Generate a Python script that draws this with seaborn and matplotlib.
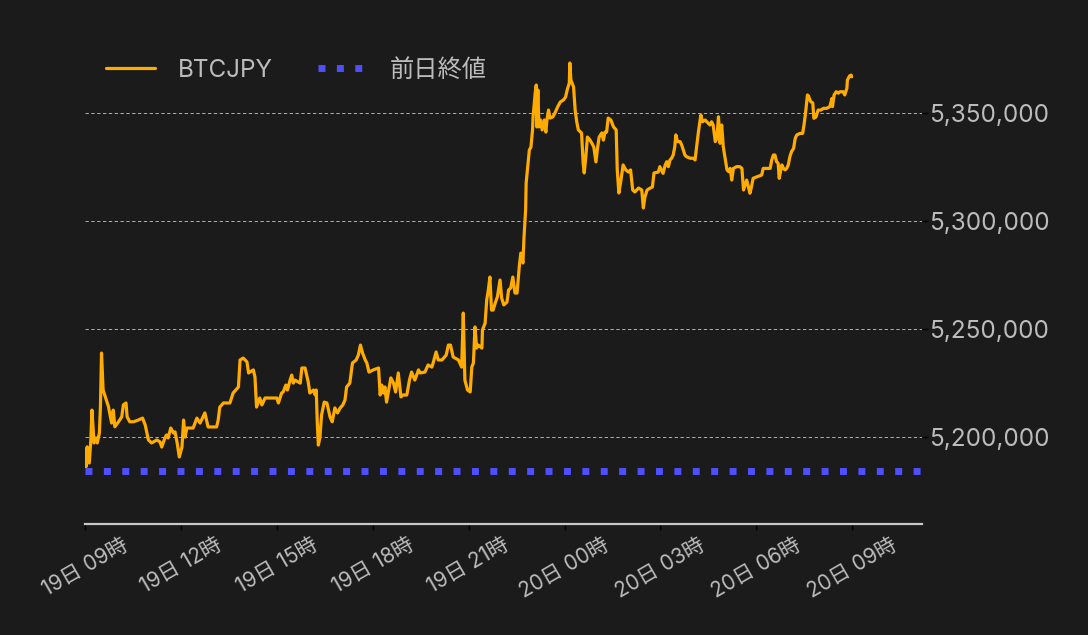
import matplotlib
matplotlib.use("Agg")
import matplotlib.pyplot as plt
import matplotlib.dates as mdates
from matplotlib.ticker import FuncFormatter
import pandas as pd
import seaborn as sns

# ---- data ----
start_time = "2021-12-19 09:00"
minutes = [0, 2, 4, 8, 11, 13, 17, 21, 23, 27, 29, 31, 34, 38, 44, 50, 53, 56, 63, 69,
           72, 77, 79, 84, 91, 100, 108, 113, 119, 125, 135, 141, 144, 150, 153, 156, 161, 166, 169, 173,
           177, 182, 185, 188, 191, 203, 210, 216, 225, 231, 247, 250, 253, 260, 272, 278, 288, 291, 297, 304,
           307, 316, 319, 322, 328, 332, 338, 360, 363, 369, 372, 377, 380, 385, 388, 391, 394, 404, 407, 413,
           419, 422, 429, 432, 434, 436, 438, 441, 444, 449, 454, 460, 464, 469, 474, 479, 484, 488, 491, 497,
           502, 509, 513, 517, 521, 526, 529, 533, 541, 551, 554, 557, 560, 563, 566, 569, 574, 579, 583, 588,
           593, 597, 604, 609, 613, 619, 626, 629, 638, 644, 651, 654, 659, 663, 670, 678, 682, 686, 691, 701,
           707, 710, 713, 718, 723, 726, 729, 732, 735, 738, 745, 746, 751, 754, 757, 760, 763, 766, 770, 774,
           779, 782, 786, 792, 795, 799, 803, 807, 811, 815, 818, 822, 824, 827, 828, 831, 834, 837, 840, 841,
           845, 847, 848, 850, 852, 855, 858, 862, 865, 867, 870, 873, 878, 882, 887, 892, 898, 902, 905, 909,
           910, 912, 917, 920, 923, 926, 932, 935, 937, 940, 943, 948, 951, 955, 959, 962, 965, 970, 973, 976,
           979, 982, 987, 992, 997, 999, 1002, 1006, 1010, 1015, 1020, 1024, 1028, 1032, 1039, 1045, 1048, 1051, 1055, 1061,
           1065, 1068, 1076, 1079, 1082, 1085, 1089, 1092, 1095, 1098, 1101, 1104, 1107, 1109, 1112, 1117, 1120, 1123, 1126, 1129,
           1136, 1142, 1145, 1148, 1151, 1154, 1156, 1159, 1164, 1167, 1173, 1176, 1179, 1183, 1186, 1189, 1192, 1195, 1198, 1201,
           1205, 1208, 1211, 1214, 1217, 1223, 1229, 1233, 1236, 1239, 1242, 1245, 1248, 1251, 1254, 1261, 1270, 1273, 1286, 1289,
           1292, 1295, 1298, 1301, 1303, 1306, 1308, 1311, 1314, 1317, 1320, 1323, 1326, 1330, 1333, 1336, 1342, 1347, 1350, 1353,
           1356, 1358, 1362, 1366, 1368, 1372, 1376, 1381, 1386, 1392, 1398, 1402, 1403, 1406, 1410, 1414, 1417, 1423, 1426, 1430,
           1431, 1435, 1438, 1439]
prices = [5194100, 5186400, 5195600, 5188100, 5198800, 5212600, 5197400, 5199700, 5197400, 5202000,
          5214200, 5239000, 5221900, 5218800, 5214200, 5206600, 5212600, 5204900, 5207200, 5209500,
          5215000, 5215900, 5209500, 5207200, 5207200, 5208000, 5208900, 5205700, 5198800, 5197400,
          5198800, 5197800, 5195500, 5199700, 5201100, 5199700, 5204300, 5202000, 5202500, 5197400,
          5190900, 5195500, 5208000, 5200100, 5204300, 5204300, 5208900, 5206600, 5211300, 5204800,
          5204800, 5208000, 5214000, 5215900, 5215900, 5220500, 5223300, 5235800, 5236700, 5234900,
          5229800, 5231200, 5227900, 5214000, 5218200, 5215000, 5218200, 5218200, 5215900, 5220500,
          5221000, 5224200, 5221900, 5226500, 5228800, 5225100, 5226500, 5225100, 5232100, 5232100,
          5225600, 5220500, 5221900, 5219600, 5221900, 5206600, 5196400, 5200100, 5210300, 5216300,
          5215900, 5209400, 5207200, 5213600, 5211300, 5213600, 5215000, 5217300, 5223300, 5225100,
          5234400, 5235800, 5238100, 5242700, 5239000, 5235800, 5234400, 5230200, 5231200, 5232100,
          5219600, 5224200, 5220500, 5223300, 5216300, 5220500, 5227500, 5225100, 5221000, 5229800,
          5218700, 5219600, 5219600, 5226500, 5230200, 5226500, 5231200, 5229800, 5230200, 5233500,
          5232500, 5234900, 5239500, 5235800, 5235800, 5238100, 5242700, 5242700, 5237200, 5235800,
          5232500, 5257500, 5226500, 5221900, 5221000, 5232500, 5234400, 5251100, 5241300, 5242700,
          5241300, 5249700, 5252900, 5263600, 5268200, 5274200, 5258900, 5258900, 5262200, 5265000,
          5272800, 5264500, 5261300, 5262600, 5268200, 5269100, 5274200, 5266800, 5266800, 5278800,
          5285300, 5280700, 5292700, 5305200, 5317700, 5325100, 5333000, 5334400, 5342300, 5348300,
          5359400, 5363100, 5343700, 5360800, 5343700, 5346900, 5342300, 5346900, 5341300, 5346900,
          5351500, 5347800, 5348300, 5350100, 5352900, 5355200, 5356200, 5357500, 5360800, 5364000,
          5373300, 5365400, 5362200, 5351500, 5346000, 5342300, 5340900, 5327000, 5322400, 5329800,
          5339000, 5337600, 5336300, 5334400, 5327500, 5333900, 5339000, 5340900, 5337600, 5341300,
          5341300, 5347800, 5346900, 5343700, 5342300, 5323800, 5313100, 5319100, 5326100, 5323800,
          5322800, 5323800, 5314500, 5313600, 5315400, 5314500, 5306200, 5311300, 5314500, 5315400,
          5315900, 5322400, 5322800, 5325300, 5323800, 5322200, 5326100, 5327600, 5325300, 5328400,
          5329200, 5330700, 5334500, 5340000, 5336900, 5336900, 5335300, 5333000, 5330700, 5329900,
          5329200, 5329200, 5328400, 5334500, 5340700, 5346100, 5349200, 5346100, 5346900, 5346100,
          5344600, 5346100, 5344600, 5336900, 5338400, 5348400, 5336100, 5344600, 5334500, 5329900,
          5323800, 5323000, 5324500, 5319100, 5324500, 5325300, 5325300, 5324500, 5314500, 5316800,
          5319100, 5316000, 5313000, 5316000, 5319900, 5320600, 5321400, 5324500, 5324500, 5328400,
          5330700, 5330700, 5327600, 5326900, 5319900, 5323800, 5326100, 5324500, 5323800, 5324500,
          5326100, 5329900, 5332200, 5333800, 5338400, 5340000, 5340700, 5340700, 5345400, 5351500,
          5358500, 5358000, 5355400, 5354800, 5347700, 5348300, 5351500, 5351500, 5352300, 5352300,
          5353100, 5356900, 5353100, 5358500, 5360000, 5359300, 5360000, 5360000, 5358500, 5361600,
          5365400, 5367300, 5367700, 5366900]
prev_close = 5184300
series_labels = ["BTCJPY", "前日終値"]
y_ticks = [5200000, 5250000, 5300000, 5350000]
tick_hours = [0, 3, 6, 9, 12, 15, 18, 21, 24]
x_end_minutes = 1571
y_range = (5160100, 5393200)

# ---- styling ----
BG = "#1b1b1b"
ORANGE = "#ffab00"
BLUE = "#4f4fff"
TXT = "#bcbcbc"

sns.set_theme(style="dark")
plt.rcParams["font.family"] = ["Inter", "Noto Sans CJK JP", "DejaVu Sans"]

t0 = pd.Timestamp(start_time)
df = pd.DataFrame({"time": t0 + pd.to_timedelta(minutes, unit="m"), "price": prices})

fig = plt.figure(figsize=(10.88, 6.35), dpi=100, facecolor=BG)
ax = fig.add_axes([85 / 1088, 1 - 523.5 / 635, 837 / 1088, 503.5 / 635])
ax.set_facecolor(BG)

sns.lineplot(data=df, x="time", y="price", ax=ax, color=ORANGE, linewidth=2.3,
             estimator=None, label=series_labels[0], legend=False)
hl = ax.axhline(prev_close, color=BLUE, linewidth=5, linestyle=":", label=series_labels[1])

ax.set_xlim(t0, t0 + pd.Timedelta(minutes=x_end_minutes))
ax.set_ylim(*y_range)

ax.set_xticks([t0 + pd.Timedelta(hours=h) for h in tick_hours])
ax.xaxis.set_major_formatter(mdates.DateFormatter("%d日 %H時"))
ax.set_yticks(y_ticks)
ax.yaxis.set_major_formatter(FuncFormatter(lambda v, p: f"{v:,.0f}"))
ax.yaxis.tick_right()

ax.grid(False)
ax.yaxis.grid(True, color="#c8c8c8", linewidth=0.6, linestyle=(0, (4, 3)))

for s in ["top", "left", "right"]:
    ax.spines[s].set_visible(False)
ax.spines["bottom"].set_color("#c8c8c8")
ax.spines["bottom"].set_linewidth(1.6)

ax.tick_params(axis="x", colors="#000000", labelcolor=TXT, length=4, width=1,
               labelsize=15, rotation=30, pad=4, bottom=True)
ax.tick_params(axis="y", colors="#000000", labelcolor=TXT, length=4, width=1,
               labelsize=17.5, right=True, left=False, pad=1)
ax.set_xlabel("")
ax.set_ylabel("")

handles = [ax.get_lines()[0], hl]
leg = ax.legend(handles, series_labels, ncol=2, frameon=False, loc="upper left",
                bbox_to_anchor=(-0.001, 0.966), fontsize=17.5, labelcolor=TXT,
                handlelength=2.0, handletextpad=0.95, columnspacing=1.85)

fig.savefig("out.png", dpi=100, facecolor=BG)
